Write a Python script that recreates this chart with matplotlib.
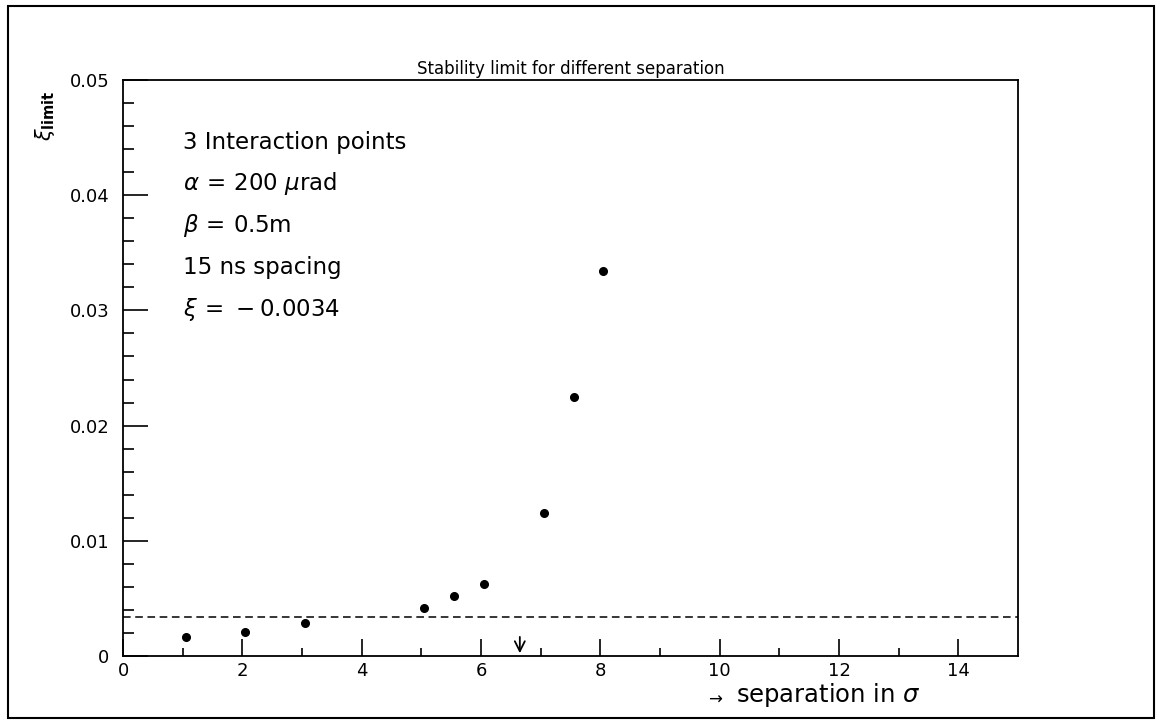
import numpy as np
import matplotlib
matplotlib.use("Agg")
import matplotlib.pyplot as plt
from matplotlib.patches import Rectangle

# data
separation = [1.05, 2.05, 3.05, 5.05, 5.55, 6.05, 7.05, 7.55, 8.05]
xi_limit = [0.00168, 0.00207, 0.0029, 0.00416, 0.00524, 0.00625, 0.0124, 0.0225, 0.0334]
xi_beam = 0.0034
arrow_x = 6.65

info_lines = ["3 Interaction points",
              r"$\alpha\,=\,200\ \mu$rad",
              r"$\beta\,=\,$0.5m",
              "15 ns spacing",
              r"$\xi\,=\,-$0.0034"]

plt.rcParams['font.family'] = ['DejaVu Sans']
plt.rcParams['mathtext.fontset'] = 'dejavusans'

fig = plt.figure(figsize=(11.62, 7.22), dpi=100)
ax = fig.add_axes([0.1059, 0.0914, 0.7702, 0.7978])

# frame round the whole page
fig.patches.append(Rectangle((0.007, 0.006), 0.986, 0.985, transform=fig.transFigure,
                             fill=False, lw=1.5, ec='black'))

ax.plot(separation, xi_limit, 'o', color='black', ms=5.5)
ax.axhline(xi_beam, color='black', lw=1.1, ls=(0, (5, 3)))
ax.annotate('', xy=(arrow_x, 0.0), xytext=(arrow_x, 0.0019),
            arrowprops=dict(arrowstyle='->', color='black', lw=1.3, mutation_scale=18))

ax.set_xlim(0, 15)
ax.set_ylim(0, 0.05)
ax.set_xticks(np.arange(0, 15, 2))
ax.set_xticks(np.arange(1, 15, 1), minor=True)
ax.set_yticks([0, 0.01, 0.02, 0.03, 0.04, 0.05])
ax.set_yticklabels(['0', '0.01', '0.02', '0.03', '0.04', '0.05'])
ax.set_yticks(np.arange(0, 0.0501, 0.002), minor=True)
ax.tick_params(which='both', direction='in', top=False, right=False,
               labelsize=13, width=1.2)
ax.tick_params(axis='y', which='major', length=18, pad=10)
ax.tick_params(axis='y', which='minor', length=8)
ax.tick_params(axis='x', which='major', length=12, pad=4)
ax.tick_params(axis='x', which='minor', length=6)
for s in ax.spines.values():
    s.set_linewidth(1.3)

ax.set_title('Stability limit for different separation', fontsize=12, pad=4)

for i, line in enumerate(info_lines):
    ax.text(1.0, 0.0446 - i * 0.00362, line, fontsize=16.5, va='center', ha='left')

fig.text(0.039, 0.84, r'$\xi_{\mathbf{limit}}$', rotation=90, fontsize=15,
         ha='center', va='center')
fig.text(0.607, 0.033, r'$\rightarrow$', fontsize=12, ha='left', va='center')
fig.text(0.633, 0.037, r'separation in $\sigma$', fontsize=17.5, ha='left', va='center')

plt.savefig('out.png', dpi=100)
